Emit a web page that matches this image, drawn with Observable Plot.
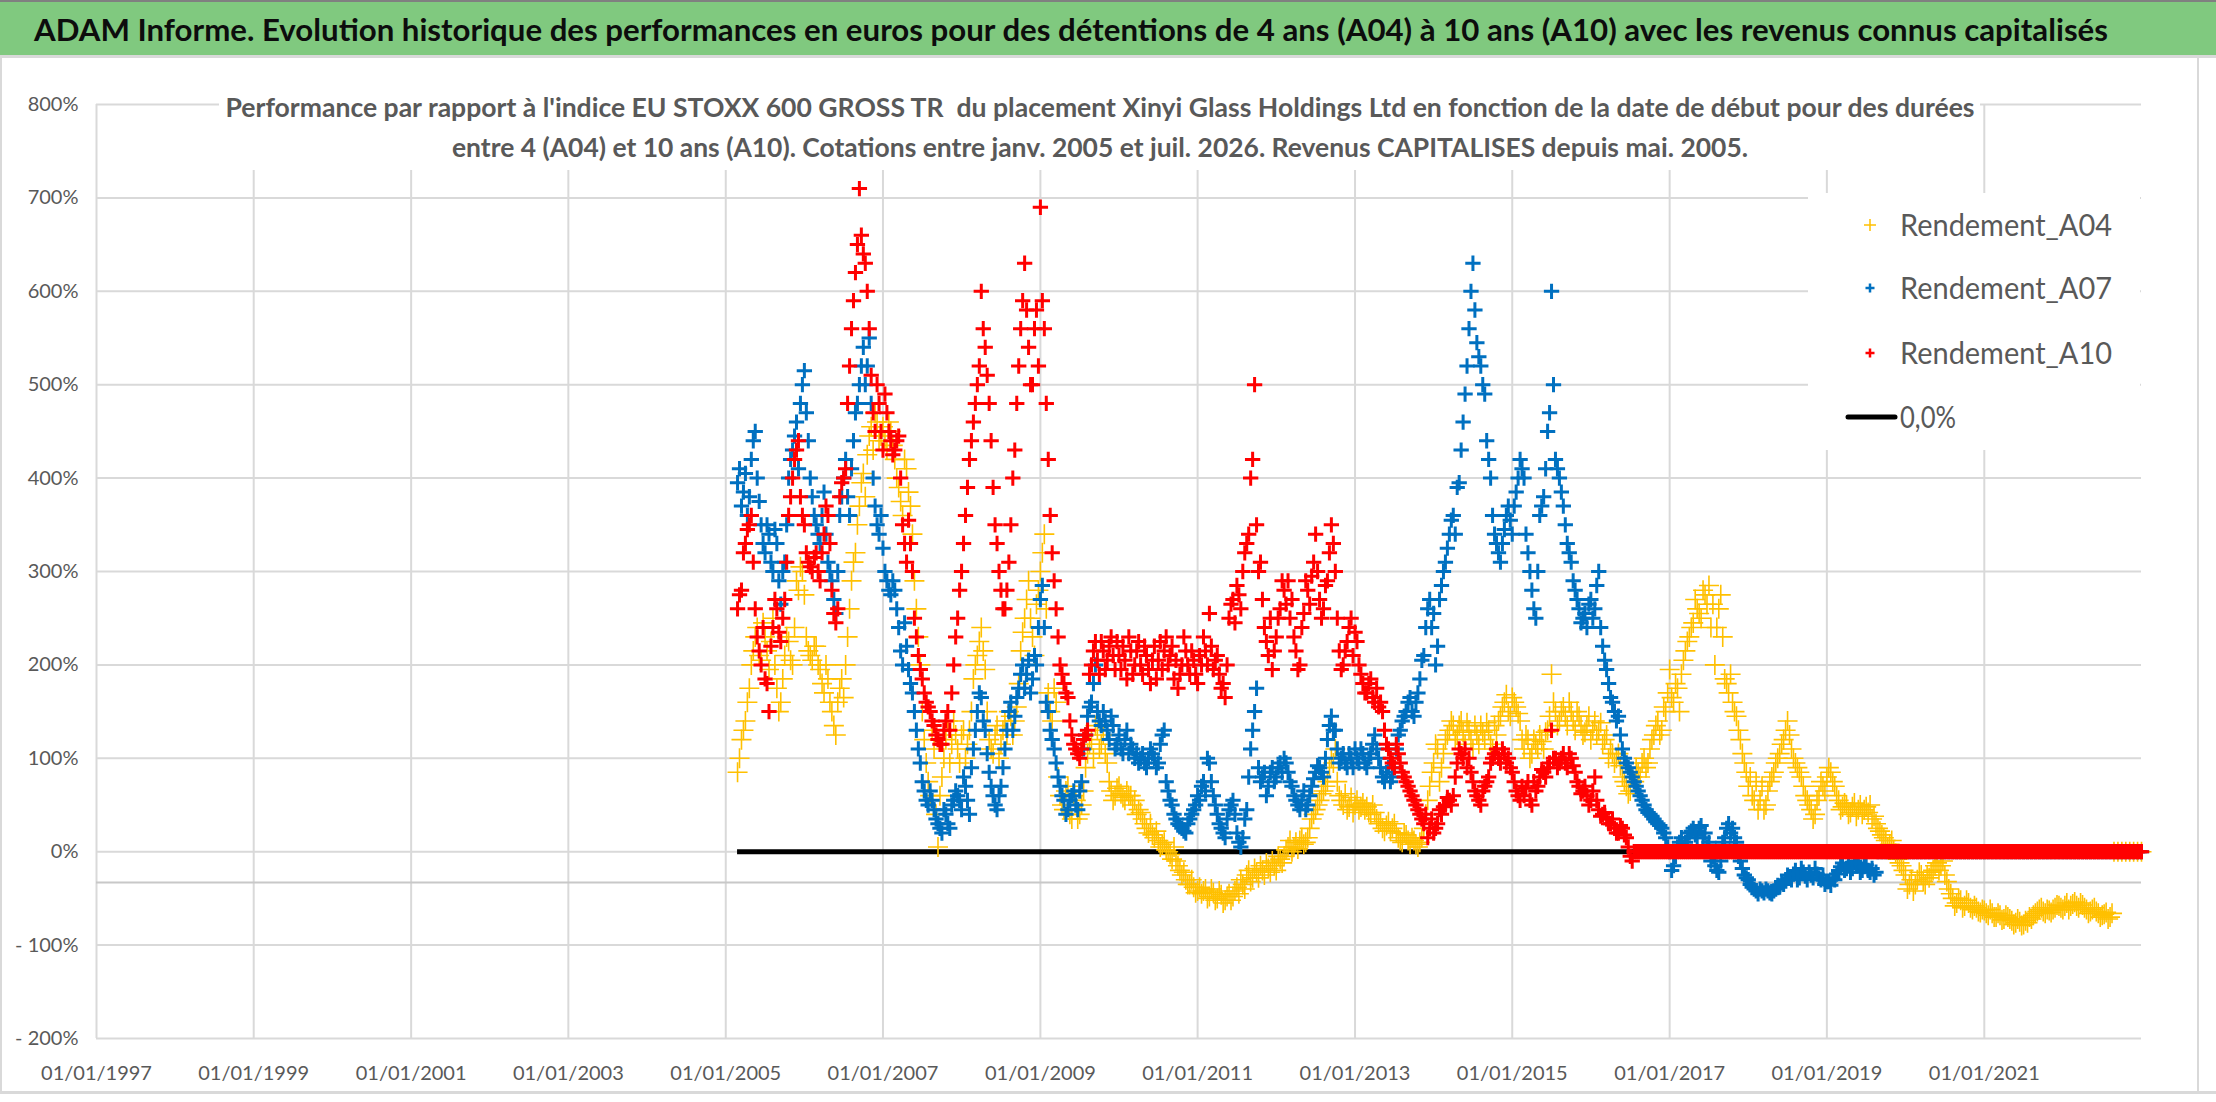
<!DOCTYPE html>
<html>
<head>
<meta charset="utf-8">
<script src="https://cdn.jsdelivr.net/npm/d3@7"></script>
<script src="https://cdn.jsdelivr.net/npm/@observablehq/plot@0.6"></script>
<style>
html, body { margin: 0; padding: 0; background: #fff; }
#page { position: relative; width: 2216px; height: 1102px; overflow: hidden; background: #fff; font-family: Lato, "Liberation Sans", sans-serif; }
#titlebar { position: absolute; left: 0; top: 0; width: 2216px; height: 55px; background: #80C97F; border-top: 2px solid #808080; box-sizing: border-box; }
#titleline { position: absolute; left: 0; top: 55px; width: 2216px; height: 3px; background: #D9D9D9; }
#chart { position: absolute; left: 0; top: 58px; }
#subtitleBg { position: absolute; left: 219px; top: 80px; width: 1761px; height: 90px; background: #fff; z-index: 2; }
#subtitle { position: absolute; left: 0; top: 80px; width: 2216px; height: 90px; z-index: 3; }
#legend { position: absolute; left: 1808px; top: 193px; width: 332px; height: 257px; background: #fff; z-index: 2; }
#frameL { position: absolute; left: 0; top: 58px; width: 2px; height: 1034px; background: #D9D9D9; }
#frameR { position: absolute; left: 2197px; top: 58px; width: 2px; height: 1034px; background: #D9D9D9; }
#frameB { position: absolute; left: 0; top: 1091px; width: 2216px; height: 3px; background: #D9D9D9; }
svg text { white-space: pre; }
</style>
</head>
<body>
<div id="page">
  <div id="titlebar"></div>
  <svg style="position:absolute;left:0;top:0;z-index:3;overflow:visible" width="2216" height="55">
    <text x="34" y="41" font-family="Lato, 'Liberation Sans', sans-serif" font-size="30" font-weight="bold" fill="#0D0D0D" textLength="2074" lengthAdjust="spacingAndGlyphs">ADAM Informe. Evolution historique des performances en euros pour des détentions de 4 ans (A04) à 10 ans (A10) avec les revenus connus capitalisés</text>
  </svg>
  <div id="titleline"></div>
  <div id="frameL"></div>
  <div id="frameR"></div>
  <div id="frameB"></div>
  <div id="chart"></div>
  <div id="subtitleBg"></div>
  <div id="subtitle">
    <svg width="2216" height="90" style="overflow:visible">
      <text x="1100" y="37" text-anchor="middle" font-family="Lato, 'Liberation Sans', sans-serif" font-size="27" font-weight="bold" fill="#595959" textLength="1749" lengthAdjust="spacingAndGlyphs">Performance par rapport à l'indice EU STOXX 600 GROSS TR  du placement Xinyi Glass Holdings Ltd en fonction de la date de début pour des durées</text>
      <text x="1100" y="77" text-anchor="middle" font-family="Lato, 'Liberation Sans', sans-serif" font-size="27" font-weight="bold" fill="#595959" textLength="1296" lengthAdjust="spacingAndGlyphs">entre 4 (A04) et 10 ans (A10). Cotations entre janv. 2005 et juil. 2026. Revenus CAPITALISES depuis mai. 2005.</text>
    </svg>
  </div>
  <div id="legend"></div>
</div>
<script>
// ---- data: values in %, main values every 0.05 year from startYear,
//      mid values every 0.05 year from startYear + 0.025 ----
const startYear = 2005.15;
const stepYears = 0.05;
const midOffset = 0.025;

const seriesNames = ["Rendement_A04", "Rendement_A07", "Rendement_A10"];
const seriesColors = ["#FFC000", "#0070C0", "#FF0000"];
const zeroLabel = "0,0%";

const a04Values = [
  85,120,140,175,215,240,205,230,195,250,175,160,210,225,200,290,305,275,215,205,
  220,195,170,185,150,125,175,165,230,290,320,370,405,425,455,470,440,455,430,450,
  420,390,360,410,370,290,230,150,95,60,110,5,80,120,95,140,110,125,100,130,
  185,210,240,195,120,105,135,115,140,150,125,155,215,250,290,230,265,300,340,170,
  140,160,60,45,70,35,55,40,65,105,120,135,110,125,95,65,60,70,58,65,
  60,55,45,35,25,30,15,12,8,2,-3,5,-15,-25,-30,-35,-38,-42,-45,-40,
  -48,-44,-50,-46,-52,-45,-48,-38,-30,-40,-20,-28,-22,-15,-25,-18,-10,-20,-8,-5,
  5,0,10,12,8,15,35,45,55,65,75,100,110,60,50,45,58,50,45,52,
  48,40,42,30,25,28,22,30,15,10,18,8,12,5,15,40,70,95,110,90,
  120,130,135,125,140,115,130,110,125,135,120,130,110,125,145,160,150,165,155,140,
  110,120,105,115,125,110,130,190,150,140,155,135,150,130,145,125,135,120,140,130,
  115,125,110,95,105,80,70,65,75,85,95,90,110,125,140,130,150,195,160,175,
  190,215,230,245,260,250,275,285,265,240,275,185,170,160,145,120,95,70,60,75,
  55,45,65,80,95,105,120,140,110,95,85,70,55,45,40,60,70,80,85,70,
  55,48,50,42,52,45,40,48,50,38,25,18,12,8,2,-8,-15,-25,-35,-42,
  -30,-25,-35,-28,-20,-12,-15,-25,-40,-50,-55,-52,-58,-55,-62,-60,-65,-63,-68,-66,
  -70,-68,-72,-70,-74,-76,-75,-78,-76,-72,-66,-62,-64,-62,-65,-60,-58,-62,-55,-58,
  -54,-60,-57,-62,-64,-60,-66,-68,-65,-70,
  0,0,0,0,0,0,0,0
];
const a04Mid = [
  100,130,160,200,230,210,245,215,225,200,150,185,230,205,240,280,300,230,210,220,
  200,180,200,160,135,160,185,200,260,310,350,395,380,445,430,460,445,440,460,435,
  400,375,420,385,340,260,200,120,75,130,40,60,100,140,115,125,95,130,115,150,
  200,225,215,150,110,125,100,130,125,145,140,180,235,270,250,210,280,320,260,150,
  175,80,50,65,40,60,35,50,90,115,100,130,115,105,75,55,68,62,55,60,
  50,40,42,30,20,18,22,5,10,0,-8,-10,-20,-22,-35,-30,-44,-38,-42,-50,
  -40,-52,-42,-55,-48,-52,-42,-45,-35,-25,-32,-18,-28,-20,-12,-22,-15,-5,-12,2,
  12,5,3,15,10,25,40,50,62,70,90,95,75,55,62,48,42,55,48,45,
  42,50,35,32,22,32,25,20,12,20,12,15,8,10,25,55,85,115,75,105,
  125,140,120,135,128,138,120,135,115,128,138,115,135,140,155,168,145,160,148,120,
  125,100,120,110,118,128,145,160,135,150,145,160,140,150,135,128,145,130,125,138,
  120,100,105,100,92,75,62,80,90,80,100,95,120,135,125,155,170,165,180,150,
  205,225,240,270,255,280,265,240,200,260,230,180,190,150,130,105,85,80,55,45,
  70,50,75,85,100,115,130,125,100,90,80,60,50,35,55,75,65,90,75,60,
  45,52,40,48,38,50,45,42,35,30,22,15,5,12,-2,-12,-20,-40,-30,-35,
  -22,-32,-25,-22,-15,-20,-10,-32,-45,-58,-50,-60,-52,-60,-58,-64,-62,-66,-62,-70,
  -66,-73,-68,-72,-78,-72,-79,-74,-70,-68,-64,-60,-66,-63,-62,-57,-60,-58,-62,-56,
  -58,-55,-60,-66,-62,-64,-70,-67,-72,-66
];

const a07Values = [
  395,370,405,380,440,400,350,320,340,300,330,265,310,400,430,460,480,515,440,380,
  350,330,385,310,290,255,360,400,380,410,470,500,540,520,480,370,340,325,290,275,
  280,240,200,220,180,150,110,75,55,65,45,30,20,40,25,55,60,45,70,40,
  110,150,165,130,85,60,45,70,110,150,130,165,190,175,205,185,200,270,240,150,
  120,95,70,55,45,60,50,65,110,145,160,200,140,150,130,145,110,125,105,130,
  115,100,95,105,90,110,100,95,125,75,55,40,30,25,20,35,45,60,70,65,
  95,60,40,25,15,45,55,20,5,35,80,130,175,75,85,70,90,80,95,100,
  85,70,55,45,65,50,70,85,90,80,120,145,130,95,105,90,100,110,95,105,
  90,105,125,100,80,85,75,90,125,140,150,165,145,170,205,240,270,255,220,285,
  310,340,360,390,430,490,560,630,545,520,490,420,360,330,310,345,370,340,385,420,
  400,320,280,250,360,380,450,600,420,400,370,330,310,280,260,250,240,270,260,300,
  220,195,165,150,145,110,95,85,75,65,55,45,40,35,30,25,15,0,-15,5,
  15,10,20,25,15,28,20,10,-5,-20,-10,15,30,25,10,-10,-25,-30,-38,-42,
  -40,-44,-42,-45,-40,-38,-35,-25,-30,-20,-28,-22,-30,-25,-18,-28,-25,-32,-36,-30,
  -20,-12,-18,-22,-10,-15,-20,-14,-22,-25,
  0,0,0,0,0,0,0,0,0,0,0,0,0,0,0,0,0,0,0,0,
  0,0,0,0,0,0,0,0,0,0,0,0,0,0,0,0,0,0,0,0,
  0,0,0,0,0,0,0,0,0,0,0,0,0,0,0,0,0,0,0,0,
  0,0,0,0,0,0,0,0
];
const a07Mid = [
  410,385,360,420,450,375,330,350,310,345,290,300,350,420,445,410,500,470,400,360,
  340,360,340,300,270,300,380,420,360,440,480,520,500,550,400,350,360,300,280,290,
  260,215,245,195,170,130,95,65,50,55,35,25,45,30,50,65,55,80,55,90,
  130,170,140,105,70,50,60,90,130,160,145,175,200,190,170,210,240,285,160,130,
  110,80,60,40,55,65,45,75,125,155,180,150,135,140,120,135,115,110,120,105,
  110,105,100,95,100,105,90,115,130,65,50,35,28,22,30,40,50,55,75,100,
  75,50,30,20,35,50,40,10,15,45,110,150,90,80,60,85,75,90,85,95,
  75,60,50,55,45,60,78,92,85,100,135,130,110,100,95,105,90,100,110,95,
  100,115,110,90,75,90,80,110,130,145,160,150,160,185,210,260,240,200,270,300,
  325,355,340,395,460,520,600,580,530,500,440,400,340,320,330,360,355,370,400,410,
  340,300,260,300,370,410,470,500,410,385,350,320,290,270,245,255,265,250,285,240,
  205,180,160,140,125,100,90,80,70,60,50,42,38,32,28,20,5,-20,-5,10,
  5,15,22,18,25,15,5,-10,-15,-22,10,25,20,15,-5,-18,-28,-35,-40,-45,
  -42,-40,-44,-42,-36,-32,-30,-28,-24,-30,-18,-26,-22,-28,-24,-30,-35,-32,-28,-24,
  -16,-20,-14,-18,-12,-22,-16,-20,-18,-22
];

const a10Values = [
  260,280,330,350,310,230,200,185,150,240,260,225,270,360,400,430,380,350,310,300,
  320,290,340,360,280,245,380,400,480,560,620,710,640,600,510,450,480,430,470,440,
  430,445,350,310,330,250,210,185,160,150,135,120,115,140,130,200,250,300,360,420,
  460,500,600,540,480,390,330,280,260,310,400,480,560,630,540,500,580,690,560,420,
  320,260,200,180,165,125,110,100,120,130,200,225,190,215,205,230,195,210,220,185,
  215,200,225,190,210,180,220,205,195,230,210,185,175,200,215,190,205,180,200,215,
  255,195,210,175,165,250,270,285,260,320,340,420,350,310,240,210,195,230,260,280,
  290,270,215,200,255,280,295,340,270,260,290,350,300,215,200,225,250,235,200,180,
  170,185,160,155,150,115,100,90,105,85,75,65,55,45,35,40,25,20,30,40,
  50,55,60,95,105,110,100,75,60,50,70,80,100,110,95,105,100,85,65,55,
  60,75,50,65,80,85,90,130,100,95,105,90,100,85,70,65,60,55,80,45,
  40,35,30,25,20,25,15,-5,0,
  0,0,0,0,0,0,0,0,0,0,0,0,0,0,0,0,0,0,0,0,
  0,0,0,0,0,0,0,0,0,0,0,0,0,0,0,0,0,0,0,0,
  0,0,0,0,0,0,0,0,0,0,0,0,0,0,0,0,0,0,0,0,
  0,0,0,0,0,0,0,0,0,0,0,0,0,0,0,0,0,0,0,0,
  0,0,0,0,0,0,0,0,0,0,0,0,0,0,0,0,0,0,0,0,
  0,0,0,0,0,0,0,0,0,0,0,0,0,0,0,0,0,0,0,0,
  0,0,0,0,0,0,0,0,0
];
const a10Mid = [
  275,320,345,360,260,215,240,180,220,270,235,250,310,380,420,440,360,320,305,315,
  300,320,370,330,255,260,395,410,520,590,650,660,630,560,470,500,450,490,450,425,
  440,400,330,355,300,230,195,170,155,140,125,115,130,150,170,230,280,330,390,440,
  480,520,560,510,440,350,300,260,280,350,430,520,590,580,500,560,520,590,480,360,
  290,230,190,170,140,115,105,110,125,190,215,205,225,195,220,210,225,195,205,230,
  190,215,200,220,195,205,185,225,215,200,220,205,190,230,200,215,190,210,230,200,
  220,205,190,180,200,265,245,275,300,330,400,500,300,270,225,250,215,250,290,265,
  250,230,195,240,290,265,310,300,250,285,320,330,250,195,215,240,210,225,190,170,
  180,165,175,160,130,110,95,115,95,80,70,60,50,40,30,15,35,25,45,48,
  58,50,80,110,100,90,85,65,55,65,75,95,105,100,110,95,90,75,60,70,
  68,55,75,70,88,80,95,100,90,100,95,105,92,75,62,70,50,65,55,38,
  42,30,35,20,28,18,5,-10,
  0,0,0,0,0,0,0,0,0,0,0,0,0,0,0,0,0,0,0,0,
  0,0,0,0,0,0,0,0,0,0,0,0,0,0,0,0,0,0,0,0,
  0,0,0,0,0,0,0,0,0,0,0,0,0,0,0,0,0,0,0,0,
  0,0,0,0,0,0,0,0,0,0,0,0,0,0,0,0,0,0,0,0,
  0,0,0,0,0,0,0,0,0,0,0,0,0,0,0,0,0,0,0,0,
  0,0,0,0,0,0,0,0,0,0,0,0,0,0,0,0,0,0,0,0,
  0,0,0,0,0,0,0,0,0
];

const xTickYears = [1997,1999,2001,2003,2005,2007,2009,2011,2013,2015,2017,2019,2021];
const xDomainYears = [1997, 2023];
const yTickValues = [-200,-100,0,100,200,300,400,500,600,700,800];
const yDomainValues = [-200, 800];
const xAxisCrossing = -33; // horizontal axis line position (%)

// ---- helpers ----
function yearToDate(y) {
  const yr = Math.floor(y + 1e-9);
  const f = y - yr;
  const a = Date.UTC(yr, 0, 1), b = Date.UTC(yr + 1, 0, 1);
  return new Date(a + f * (b - a));
}
function toRows(values, offset, series) {
  return values.map((v, i) => ({date: yearToDate(startYear + offset + i * stepYears), value: v, series}));
}
const endDate = new Date(Date.UTC(xDomainYears[1], 0, 1));
const keepInDomain = r => r.date <= endDate;
const rows04 = toRows(a04Values, 0, seriesNames[0]).concat(toRows(a04Mid, midOffset, seriesNames[0])).filter(keepInDomain);
const rows07 = toRows(a07Values, 0, seriesNames[1]).concat(toRows(a07Mid, midOffset, seriesNames[1])).filter(keepInDomain);
const rows10 = toRows(a10Values, 0, seriesNames[2]).concat(toRows(a10Mid, midOffset, seriesNames[2])).filter(keepInDomain);
const xTicks = xTickYears.map(y => new Date(Date.UTC(y, 0, 1)));
const fmtPct = v => v < 0 ? `- ${Math.abs(v)}%` : `${v}%`;
const lastA10 = toRows(a10Values, 0, seriesNames[2]);
const zeroRow = [{y: 0, x1: rows04[0].date, x2: lastA10[lastA10.length - 1].date}];

const chart = Plot.plot({
  width: 2216,
  height: 1034,
  marginTop: 46,
  marginBottom: 54,
  marginLeft: 96,
  marginRight: 75,
  style: {fontFamily: "Lato, 'Liberation Sans', sans-serif", fontSize: "20px", background: "transparent", overflow: "visible"},
  x: {type: "utc", domain: xDomainYears.map(y => new Date(Date.UTC(y, 0, 1)))},
  y: {domain: yDomainValues},
  marks: [
    Plot.ruleY(yTickValues, {stroke: "#D9D9D9", strokeWidth: 2}),
    Plot.ruleX(xTicks, {stroke: "#D9D9D9", strokeWidth: 2}),
    Plot.ruleY([xAxisCrossing], {stroke: "#C8C8C8", strokeWidth: 2}),
    Plot.axisY(yTickValues, {tickSize: 0, tickPadding: 18, tickFormat: fmtPct, fill: "#595959", label: null}),
    Plot.axisX(xTicks, {tickSize: 0, tickPadding: 27, tickFormat: d3.utcFormat("%d/%m/%Y"), fill: "#595959", label: null}),
    Plot.ruleY(zeroRow, {y: "y", x1: "x1", x2: "x2", stroke: "#000", strokeWidth: 5}),
    Plot.dot(rows04, {x: "date", y: "value", symbol: "plus", stroke: seriesColors[0], strokeWidth: 1.6, r: 6.5}),
    Plot.dot(rows07, {x: "date", y: "value", symbol: "plus", stroke: seriesColors[1], strokeWidth: 3, r: 5}),
    Plot.dot(rows10, {x: "date", y: "value", symbol: "plus", stroke: seriesColors[2], strokeWidth: 3, r: 5})
  ]
});
document.getElementById("chart").appendChild(chart);

// ---- legend ----
const legendRows = [
  {label: seriesNames[0], color: seriesColors[0], kind: "plus", sw: 1.5, h: 6, cy: 32},
  {label: seriesNames[1], color: seriesColors[1], kind: "plus", sw: 2.5, h: 4.5, cy: 95},
  {label: seriesNames[2], color: seriesColors[2], kind: "plus", sw: 2.5, h: 4.5, cy: 160},
  {label: zeroLabel, color: "#000", kind: "line", cy: 224}
];
const ns = "http://www.w3.org/2000/svg";
const lsvg = document.createElementNS(ns, "svg");
lsvg.setAttribute("width", 332); lsvg.setAttribute("height", 257);
for (const r of legendRows) {
  if (r.kind === "plus") {
    const p = document.createElementNS(ns, "path");
    p.setAttribute("d", `M${62 - r.h},${r.cy}H${62 + r.h}M62,${r.cy - r.h}V${r.cy + r.h}`);
    p.setAttribute("stroke", r.color); p.setAttribute("stroke-width", r.sw); p.setAttribute("fill", "none");
    lsvg.appendChild(p);
  } else {
    const l = document.createElementNS(ns, "line");
    l.setAttribute("x1", 40); l.setAttribute("x2", 87); l.setAttribute("y1", r.cy); l.setAttribute("y2", r.cy);
    l.setAttribute("stroke", r.color); l.setAttribute("stroke-width", 5); l.setAttribute("stroke-linecap", "round");
    lsvg.appendChild(l);
  }
  const t = document.createElementNS(ns, "text");
  t.setAttribute("x", 92); t.setAttribute("y", r.cy + 11);
  t.setAttribute("font-family", "Lato, 'Liberation Sans', sans-serif");
  t.setAttribute("font-size", 30); t.setAttribute("fill", "#595959");
  t.setAttribute("textLength", r.kind === "plus" ? 212 : 56);
  t.setAttribute("lengthAdjust", "spacingAndGlyphs");
  t.textContent = r.label;
  lsvg.appendChild(t);
}
document.getElementById("legend").appendChild(lsvg);
</script>
</body>
</html>
